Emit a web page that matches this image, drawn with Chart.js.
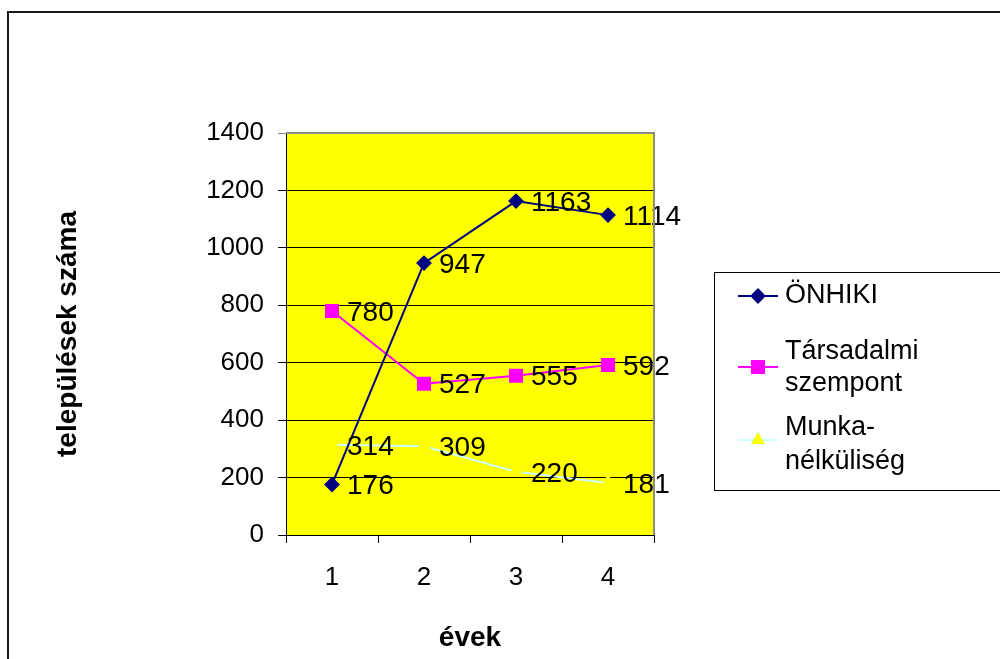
<!DOCTYPE html>
<html>
<head>
<meta charset="utf-8">
<script src="https://cdn.jsdelivr.net/npm/chart.js@4/dist/chart.umd.min.js"></script>
<style>
  html, body { margin: 0; padding: 0; background: #fff; }
  #wrap { width: 1000px; height: 659px; }
</style>
</head>
<body>
<div id="wrap"><canvas id="chart" width="1000" height="659"></canvas></div>
<script>
// data
const years = ['1', '2', '3', '4'];
const onhiki = [176, 947, 1163, 1114];
const tarsadalmi = [780, 527, 555, 592];
const munka = [314, 309, 220, 181];
const seriesNames = ['ÖNHIKI', 'Társadalmi szempont', 'Munkanélküliség'];
const legendLines = [['ÖNHIKI'], ['Társadalmi', 'szempont'], ['Munka-', 'nélküliség']];
const yTicks = [0, 200, 400, 600, 800, 1000, 1200, 1400];

const FONT = 'Arial, "Liberation Sans", sans-serif';

// yellow plot area + outer frame
const backdrop = {
    id: 'backdrop',
    beforeDraw(chart) {
        const { ctx, chartArea: a } = chart;
        ctx.save();
        ctx.fillStyle = '#ffff00';
        ctx.fillRect(a.left, a.top, a.right - a.left, a.bottom - a.top);
        ctx.strokeStyle = '#1a1a1a';
        ctx.lineWidth = 2;
        ctx.strokeRect(8, 12, 1200, 900);
        ctx.restore();
    },
    afterDraw(chart) {
        // grey plot border on top and right
        const { ctx, chartArea: a } = chart;
        ctx.save();
        ctx.strokeStyle = '#8c8c8c';
        ctx.lineWidth = 2;
        ctx.beginPath();
        ctx.moveTo(a.left, a.top);
        ctx.lineTo(a.right, a.top);
        ctx.lineTo(a.right, a.bottom);
        ctx.stroke();
        ctx.restore();
    }
};

// value labels to the right of each point
const valueLabels = {
    id: 'valueLabels',
    afterDatasetsDraw(chart) {
        const ctx = chart.ctx;
        ctx.save();
        ctx.font = '28px ' + FONT;
        ctx.fillStyle = '#000';
        ctx.textAlign = 'left';
        ctx.textBaseline = 'middle';
        chart.data.datasets.forEach((ds, i) => {
            chart.getDatasetMeta(i).data.forEach((pt, j) => {
                ctx.fillText(String(ds.data[j]), pt.x + 15, pt.y + 2);
            });
        });
        ctx.restore();
    }
};

// boxed legend with wrapped names, as in the original
const boxLegend = {
    id: 'boxLegend',
    afterDraw(chart) {
        const ctx = chart.ctx;
        const rows = [
            { lines: [296], marker: 296 },
            { lines: [352, 384], marker: 367 },
            { lines: [428, 462], marker: 440 }
        ];
        ctx.save();
        ctx.strokeStyle = '#000';
        ctx.lineWidth = 1;
        ctx.strokeRect(714.5, 272.5, 400, 218);
        ctx.font = '27px ' + FONT;
        ctx.textAlign = 'left';
        ctx.textBaseline = 'middle';
        chart.data.datasets.forEach((ds, i) => {
            const r = rows[i];
            ctx.strokeStyle = ds.borderColor;
            ctx.lineWidth = 2;
            ctx.beginPath();
            ctx.moveTo(738, r.marker);
            ctx.lineTo(778, r.marker);
            ctx.stroke();
            Chart.helpers.drawPoint(ctx, {
                pointStyle: ds.pointStyle,
                radius: ds.pointRadius,
                borderWidth: 1,
                rotation: 0
            }, 758, r.marker);
            ctx.fillStyle = ds.pointBackgroundColor;
            ctx.strokeStyle = ds.pointBorderColor;
            ctx.lineWidth = 1;
            ctx.fill();
            ctx.stroke();
            ctx.fillStyle = '#000';
            legendLines[i].forEach((t, k) => ctx.fillText(t, 785, r.lines[k]));
        });
        ctx.restore();
    }
};

new Chart(document.getElementById('chart'), {
    type: 'line',
    data: {
        labels: years,
        datasets: [{
            label: seriesNames[0],
            data: onhiki,
            borderColor: '#000080',
            borderWidth: 2,
            pointStyle: 'rectRot',
            pointRadius: 6.5,
            pointBackgroundColor: '#000080',
            pointBorderColor: '#000080',
            tension: 0
        }, {
            label: seriesNames[1],
            data: tarsadalmi,
            borderColor: '#ff00ff',
            borderWidth: 2,
            pointStyle: 'rect',
            pointRadius: 8.5,
            pointBackgroundColor: '#ff00ff',
            pointBorderColor: '#ff00ff',
            tension: 0
        }, {
            label: seriesNames[2],
            data: munka,
            borderColor: '#ccffff',
            borderWidth: 2,
            pointStyle: 'triangle',
            pointRadius: 7,
            pointBackgroundColor: '#ffff00',
            pointBorderColor: '#ffff00',
            tension: 0
        }]
    },
    options: {
        responsive: false,
        animation: false,
        layout: { padding: { top: 133, right: 346, left: 0, bottom: 0 } },
        plugins: {
            legend: { display: false },
            tooltip: { enabled: false }
        },
        scales: {
            x: {
                offset: true,
                afterFit(scale) { scale.height = 124; },
                grid: {
                    offset: true,
                    drawOnChartArea: false,
                    color: '#000',
                    tickLength: 8
                },
                border: { color: '#000', width: 1 },
                ticks: { color: '#000', font: { family: FONT, size: 26 }, padding: 19 },
                title: {
                    display: true,
                    text: 'évek',
                    color: '#000',
                    font: { family: FONT, size: 28, weight: 'bold' },
                    padding: { top: 0, bottom: 4 }
                }
            },
            y: {
                min: 0,
                max: 1400,
                afterFit(scale) { scale.width = 286; },
                afterBuildTicks(scale) { scale.ticks = yTicks.map(v => ({ value: v })); },
                grid: {
                    color: ctx => (ctx.tick && ctx.tick.value === 1400) ? '#8c8c8c' : '#000',
                    tickLength: 8
                },
                border: { color: '#000', width: 1 },
                ticks: {
                    color: '#000',
                    font: { family: FONT, size: 26 },
                    padding: 14,
                    callback: v => String(v)
                },
                title: {
                    display: true,
                    text: 'települések száma',
                    color: '#000',
                    font: { family: FONT, size: 28, weight: 'bold' },
                    padding: { top: 51, bottom: 0 }
                }
            }
        }
    },
    plugins: [backdrop, valueLabels, boxLegend]
});
</script>
</body>
</html>
